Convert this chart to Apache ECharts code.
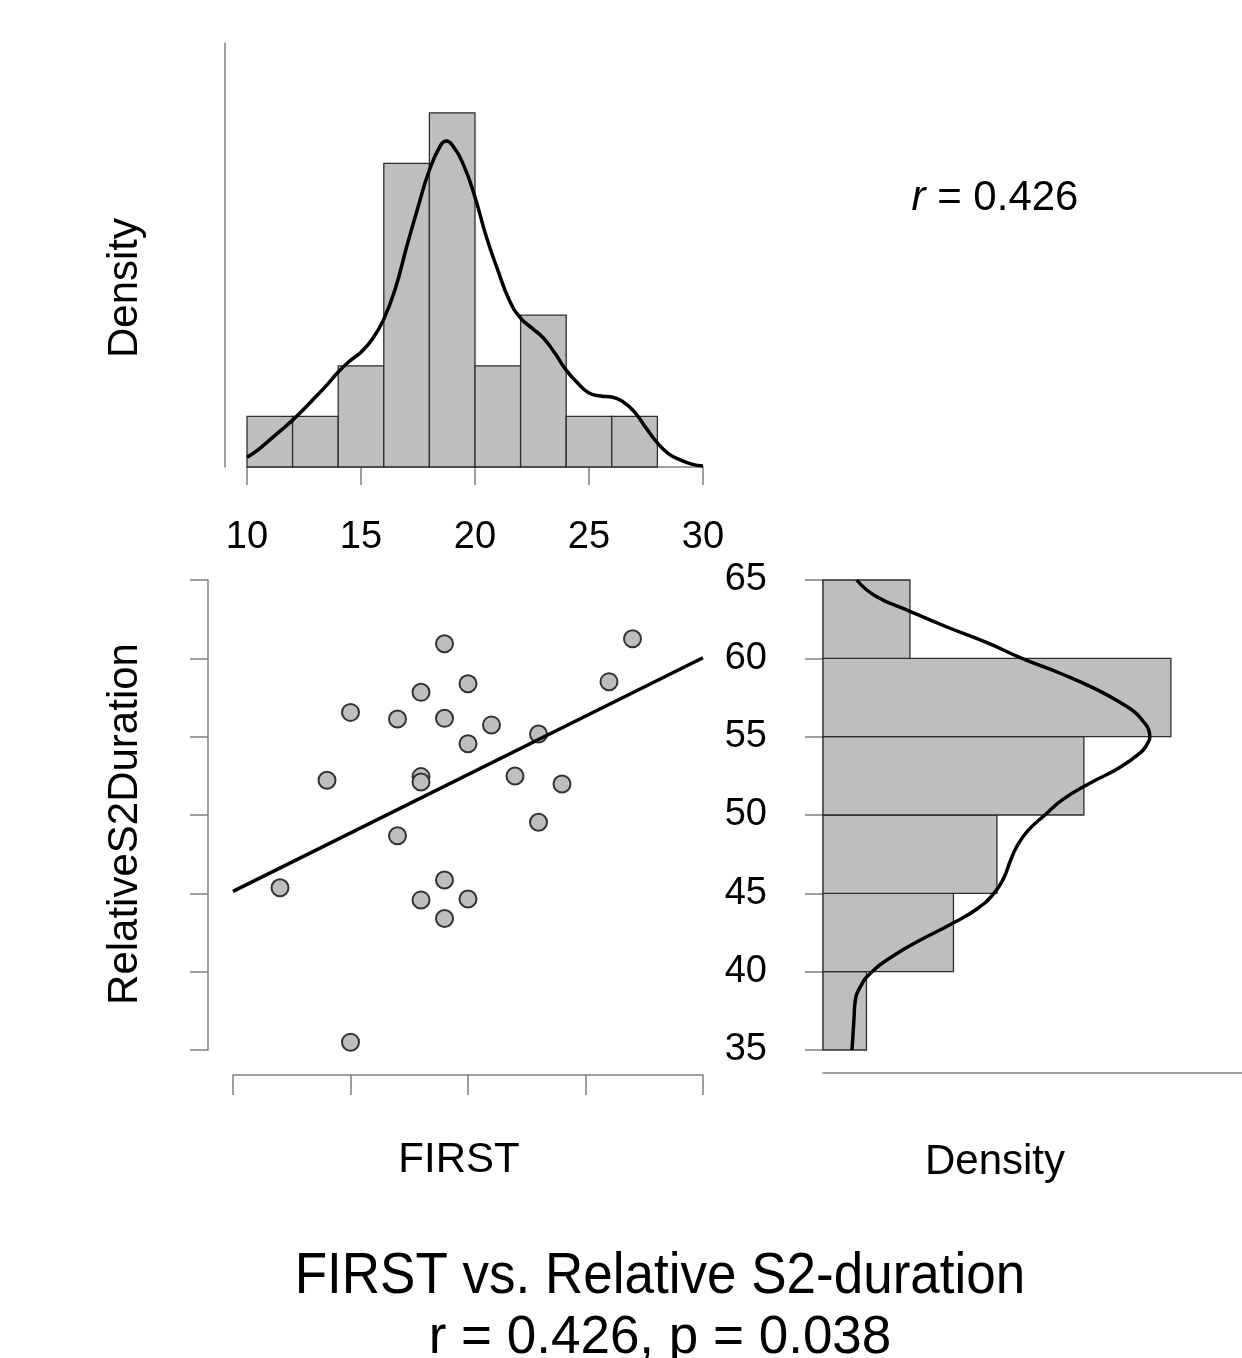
<!DOCTYPE html>
<html><head><meta charset="utf-8">
<script src="https://cdn.jsdelivr.net/npm/echarts@6.0.0/dist/echarts.min.js"></script>
<style>html,body{margin:0;padding:0;background:#fff}#c{width:1242px;height:1358px}</style>
</head><body><div id="c"></div>
<script>
// ---- data ----
var firstVals = [19, 27, 20, 18, 26, 15, 17, 19, 21, 23, 20, 14, 18, 18, 22, 24, 23, 17, 12, 19, 18, 20, 19, 15];
var s2Vals = [60.93, 61.25, 58.38, 57.83, 58.51, 56.55, 56.13, 56.17, 55.75, 55.17, 54.55, 52.22, 52.45, 52.11, 52.49, 51.98, 49.54, 48.68, 45.36, 45.85, 44.58, 44.64, 43.39, 35.5];

var topBinEdges = [10, 12, 14, 16, 18, 20, 22, 24, 26, 28];
var topBinCounts = [1, 1, 2, 6, 7, 2, 3, 1, 1];
var rightBinEdges = [35, 40, 45, 50, 55, 60, 65];
var rightBinCounts = [1, 3, 4, 6, 8, 2];

var topDensX = [10, 10.5, 11, 11.5, 12, 12.5, 13, 13.5, 14, 14.5, 15, 15.5, 16, 16.5, 17, 17.5, 18, 18.5, 18.75, 19, 19.5, 20, 20.5, 21, 21.5, 22, 22.5, 23, 23.5, 24, 24.5, 25, 25.5, 26, 26.5, 27, 27.5, 28, 28.5, 29, 29.5, 30];
var topDensY = [0.0040, 0.0072, 0.0112, 0.0152, 0.0193, 0.0239, 0.0288, 0.0337, 0.0391, 0.0436, 0.0473, 0.0527, 0.0609, 0.0733, 0.0906, 0.1070, 0.1223, 0.1326, 0.1342, 0.1326, 0.1243, 0.1111, 0.0947, 0.0811, 0.0688, 0.0613, 0.0572, 0.0531, 0.0469, 0.0399, 0.0346, 0.0305, 0.0292, 0.0288, 0.0268, 0.0226, 0.0161, 0.0099, 0.0054, 0.0029, 0.0012, 0.0004];

var rightDensV = [65, 64, 63, 62, 61, 60, 59, 58, 57, 56.5, 56, 55.5, 55, 54.5, 54, 53, 52, 51, 50, 49, 48, 47, 46, 45, 44, 43, 42, 41, 40, 39, 38, 37, 36, 35];
var rightDensD = [0.00646, 0.00996, 0.01667, 0.02375, 0.03142, 0.03812, 0.04579, 0.05249, 0.05785, 0.05996, 0.0613, 0.06236, 0.06264, 0.06207, 0.06092, 0.05670, 0.05096, 0.04598, 0.04253, 0.03927, 0.03716, 0.03582, 0.03467, 0.03276, 0.0295, 0.02433, 0.01858, 0.01341, 0.00939, 0.00709, 0.00613, 0.00594, 0.00575, 0.00556];

var xTickLabels = ['10', '15', '20', '25', '30'];
var yTickLabels = ['35', '40', '45', '50', '55', '60', '65'];

var titleText = 'FIRST vs. Relative S2-duration';
var subtitleText = 'r = 0.426, p = 0.038';
var rText = '0.426';
var xName = 'FIRST';
var yName = 'RelativeS2Duration';
var densName = 'Density';

// ---- derived ----
var n = firstVals.length;
var topHist = [];
for (var i = 0; i < topBinCounts.length; i++) {
  var w = topBinEdges[i + 1] - topBinEdges[i];
  topHist.push([topBinEdges[i], topBinEdges[i + 1], topBinCounts[i] / (n * w)]);
}
var rightHist = [];
for (var j = 0; j < rightBinCounts.length; j++) {
  var w2 = rightBinEdges[j + 1] - rightBinEdges[j];
  rightHist.push([rightBinCounts[j] / (n * w2), rightBinEdges[j], rightBinEdges[j + 1]]);
}
var scatterData = firstVals.map(function (x, k) { return [x, s2Vals[k]]; });
var mx = 0, my = 0;
firstVals.forEach(function (x, k) { mx += x; my += s2Vals[k]; });
mx /= n; my /= n;
var sxy = 0, sxx = 0;
firstVals.forEach(function (x, k) { sxy += (x - mx) * (s2Vals[k] - my); sxx += (x - mx) * (x - mx); });
var slope = sxy / sxx, icpt = my - slope * mx;
var regLine = [[10, icpt + slope * 10], [30, icpt + slope * 30]];
var topCurve = topDensX.map(function (x, k) { return [x, topDensY[k]]; });
var rightCurve = rightDensV.map(function (v, k) { return [rightDensD[k], v]; });

var FONT = "'Liberation Sans', Arial, Helvetica, sans-serif";
var AX = '#808080';
var FILL = '#bebebe';
var EDGE = '#2e2e2e';

var chart = echarts.init(document.getElementById('c'), null, { renderer: 'canvas' });

function topRect(params, api) {
  var p0 = api.coord([api.value(0), 0]);
  var p1 = api.coord([api.value(1), api.value(2)]);
  return { type: 'rect', shape: { x: p0[0], y: p1[1], width: p1[0] - p0[0], height: p0[1] - p1[1] },
    style: { fill: FILL, stroke: EDGE, lineWidth: 1.3 } };
}
function rightRect(params, api) {
  var p0 = api.coord([0, api.value(1)]);
  var p1 = api.coord([api.value(0), api.value(2)]);
  return { type: 'rect', shape: { x: p0[0], y: p1[1], width: p1[0] - p0[0], height: p0[1] - p1[1] },
    style: { fill: FILL, stroke: EDGE, lineWidth: 1.3 } };
}

var hidden = { show: false };
chart.setOption({
  animation: false,
  backgroundColor: '#ffffff',
  grid: [
    { left: 247, top: 43, width: 456, height: 424 },
    { left: 233, top: 580, width: 470, height: 470 },
    { left: 823, top: 580, width: 419, height: 470 }
  ],
  xAxis: [
    { gridIndex: 0, type: 'value', min: 10, max: 30, interval: 5, offset: 20,
      axisLine: { show: true, lineStyle: { color: AX, width: 1.5 } },
      axisTick: { show: true, length: 18, lineStyle: { color: AX, width: 1.5 } },
      axisLabel: { show: true, fontSize: 38, fontFamily: FONT, color: '#000', margin: 32,
        formatter: function (v) { return xTickLabels[(v - 10) / 5]; } },
      splitLine: hidden },
    { gridIndex: 1, type: 'value', min: 10, max: 30, interval: 5, offset: 25,
      axisLine: { show: true, lineStyle: { color: AX, width: 1.5 } },
      axisTick: { show: true, length: 20, lineStyle: { color: AX, width: 1.5 } },
      axisLabel: hidden, splitLine: hidden },
    { gridIndex: 2, type: 'value', min: 0, max: 0.0803, offset: 23,
      axisLine: { show: true, lineStyle: { color: AX, width: 1.5 } },
      axisTick: hidden, axisLabel: hidden, splitLine: hidden }
  ],
  yAxis: [
    { gridIndex: 0, type: 'value', min: 0, max: 0.1746, offset: 22,
      axisLine: { show: true, lineStyle: { color: AX, width: 1.5 } },
      axisTick: hidden, axisLabel: hidden, splitLine: hidden },
    { gridIndex: 1, type: 'value', min: 35, max: 65, interval: 5, offset: 25,
      axisLine: { show: true, lineStyle: { color: AX, width: 1.5 } },
      axisTick: { show: true, length: 18, lineStyle: { color: AX, width: 1.5 } },
      axisLabel: hidden, splitLine: hidden },
    { gridIndex: 2, type: 'value', min: 35, max: 65, interval: 5, offset: 22,
      axisLine: { show: true, lineStyle: { color: AX, width: 1.5 } },
      axisTick: { show: true, length: 18, lineStyle: { color: AX, width: 1.5 } },
      axisLabel: { show: true, fontSize: 38, fontFamily: FONT, color: '#000', margin: 34,
        formatter: function (v) { return yTickLabels[(v - 35) / 5]; } },
      splitLine: hidden }
  ],
  series: [
    { type: 'custom', xAxisIndex: 0, yAxisIndex: 0, renderItem: topRect, data: topHist,
      encode: { x: [0, 1], y: 2 }, z: 1 },
    { type: 'line', xAxisIndex: 0, yAxisIndex: 0, data: topCurve, smooth: 0.5, showSymbol: false,
      lineStyle: { color: '#000', width: 3.5 }, z: 3 },
    { type: 'scatter', xAxisIndex: 1, yAxisIndex: 1, data: scatterData, symbolSize: 17,
      itemStyle: { color: FILL, borderColor: '#333', borderWidth: 2, opacity: 1 }, z: 2 },
    { type: 'line', xAxisIndex: 1, yAxisIndex: 1, data: regLine, showSymbol: false,
      lineStyle: { color: '#000', width: 3.5 }, z: 3 },
    { type: 'custom', xAxisIndex: 2, yAxisIndex: 2, renderItem: rightRect, data: rightHist,
      encode: { x: 0, y: [1, 2] }, z: 1 },
    { type: 'line', xAxisIndex: 2, yAxisIndex: 2, data: rightCurve, smooth: 0.5, showSymbol: false,
      lineStyle: { color: '#000', width: 3.5 }, z: 3 }
  ],
  graphic: [
    { type: 'text', x: 125, y: 288, rotation: Math.PI / 2,
      style: { text: densName, font: '42px ' + FONT, fill: '#000', textAlign: 'center', textVerticalAlign: 'middle' } },
    { type: 'text', x: 125, y: 824, rotation: Math.PI / 2,
      style: { text: yName, font: '42px ' + FONT, fill: '#000', textAlign: 'center', textVerticalAlign: 'middle' } },
    { type: 'text', x: 459, y: 1160,
      style: { text: xName, font: '42px ' + FONT, fill: '#000', textAlign: 'center', textVerticalAlign: 'middle' } },
    { type: 'text', x: 995, y: 1162,
      style: { text: densName, font: '42px ' + FONT, fill: '#000', textAlign: 'center', textVerticalAlign: 'middle' } },
    { type: 'text', x: 995, y: 198,
      style: { text: '{i|r} = ' + rText, font: '42px ' + FONT, fill: '#000', textAlign: 'center', textVerticalAlign: 'middle',
        rich: { i: { fontStyle: 'italic', fontSize: 42, fontFamily: FONT } } } },
    { type: 'text', x: 660, y: 1277, scaleX: 0.93,
      style: { text: titleText, font: '57px ' + FONT, fill: '#000', textAlign: 'center', textVerticalAlign: 'middle' } },
    { type: 'text', x: 660, y: 1338,
      style: { text: subtitleText, font: '53px ' + FONT, fill: '#000', textAlign: 'center', textVerticalAlign: 'middle' } }
  ]
});
</script></body></html>
